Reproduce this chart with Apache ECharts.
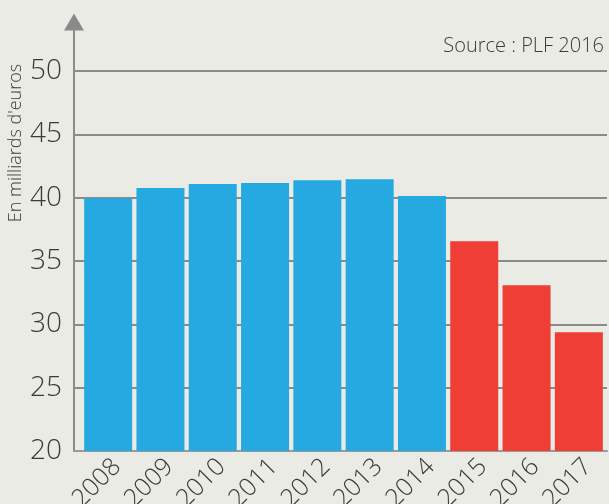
<!DOCTYPE html>
<html><head><meta charset="utf-8">
<script src="https://cdn.jsdelivr.net/npm/echarts@6/dist/echarts.min.js"></script>
<style>html,body{margin:0;padding:0;background:#ebebe6;}#c{width:609px;height:504px;}</style>
</head><body><div id="c"></div>
<script>
const years = ['2008','2009','2010','2011','2012','2013','2014','2015','2016','2017'];
const realises = [39.95, 40.77, 41.07, 41.15, 41.38, 41.46, 40.13, null, null, null];
const previsions = [null, null, null, null, null, null, null, 36.55, 33.08, 29.37];
const yTicks = {min: 20, max: 50, interval: 5};
const yTitle = "En milliards d'euros";
const sourceText = 'Source : PLF 2016';

const font = '"Open Sans", "Noto Sans", sans-serif';
const textColor = '#3a3a3a';
const chart = echarts.init(document.getElementById('c'), null, {renderer: 'canvas'});
chart.setOption({
  backgroundColor: '#ebebe6',
  animation: false,
  title: {
    text: sourceText, right: 0, top: 31,
    textStyle: {fontFamily: font, fontSize: 20, fontWeight: 300, color: textColor}
  },
  graphic: [{
    type: 'text', x: 16, y: 143, rotation: Math.PI / 2,
    style: {text: yTitle, font: '300 18px ' + font, fill: textColor, align: 'center', verticalAlign: 'middle'}
  }],
  grid: [
    {left: 74, right: 2, top: 71, bottom: 53, containLabel: false, outerBoundsMode: 'none'},
    {left: 82, right: 4, top: 71, bottom: 53, containLabel: false, outerBoundsMode: 'none'},
    {left: 74, right: 2, top: 22, bottom: 53, containLabel: false, outerBoundsMode: 'none'}
  ],
  xAxis: [
    {gridIndex: 0, type: 'category', data: years, axisLine: {show: true, lineStyle: {color: '#9a9a9a', width: 2}},
     axisTick: {show: false}, axisLabel: {show: false}, splitLine: {show: false}},
    {gridIndex: 1, type: 'category', data: years, axisLine: {show: false}, axisTick: {show: false},
     axisLabel: {rotate: 45, margin: 3, verticalAlign: 'top', fontFamily: font, fontSize: 25, fontWeight: 300, color: textColor}},
    {gridIndex: 2, type: 'category', data: years, show: false}
  ],
  yAxis: [
    {gridIndex: 0, type: 'value', min: yTicks.min, max: yTicks.max, interval: yTicks.interval,
     axisLine: {show: true, lineStyle: {color: '#8a8a8a', width: 2}}, axisTick: {show: false},
     axisLabel: {margin: 12, fontFamily: font, fontSize: 28, fontWeight: 300, color: textColor},
     splitLine: {show: true, lineStyle: {color: '#8a8a8a', width: 2}}},
    {gridIndex: 1, type: 'value', min: yTicks.min, max: yTicks.max, interval: yTicks.interval, show: false},
    {gridIndex: 2, type: 'value', min: 0, max: 1, axisLabel: {show: false}, axisTick: {show: false},
     splitLine: {show: false},
     axisLine: {show: true, symbol: ['none', 'triangle'], symbolSize: [20, 17], lineStyle: {color: '#8a8a8a', width: 2}}}
  ],
  series: [
    {type: 'bar', xAxisIndex: 1, yAxisIndex: 1, stack: 'a', data: realises, barWidth: 48,
     itemStyle: {color: '#25a9e0'}},
    {type: 'bar', xAxisIndex: 1, yAxisIndex: 1, stack: 'a', data: previsions, barWidth: 48,
     itemStyle: {color: '#ef3e36'}}
  ]
});
</script></body></html>
